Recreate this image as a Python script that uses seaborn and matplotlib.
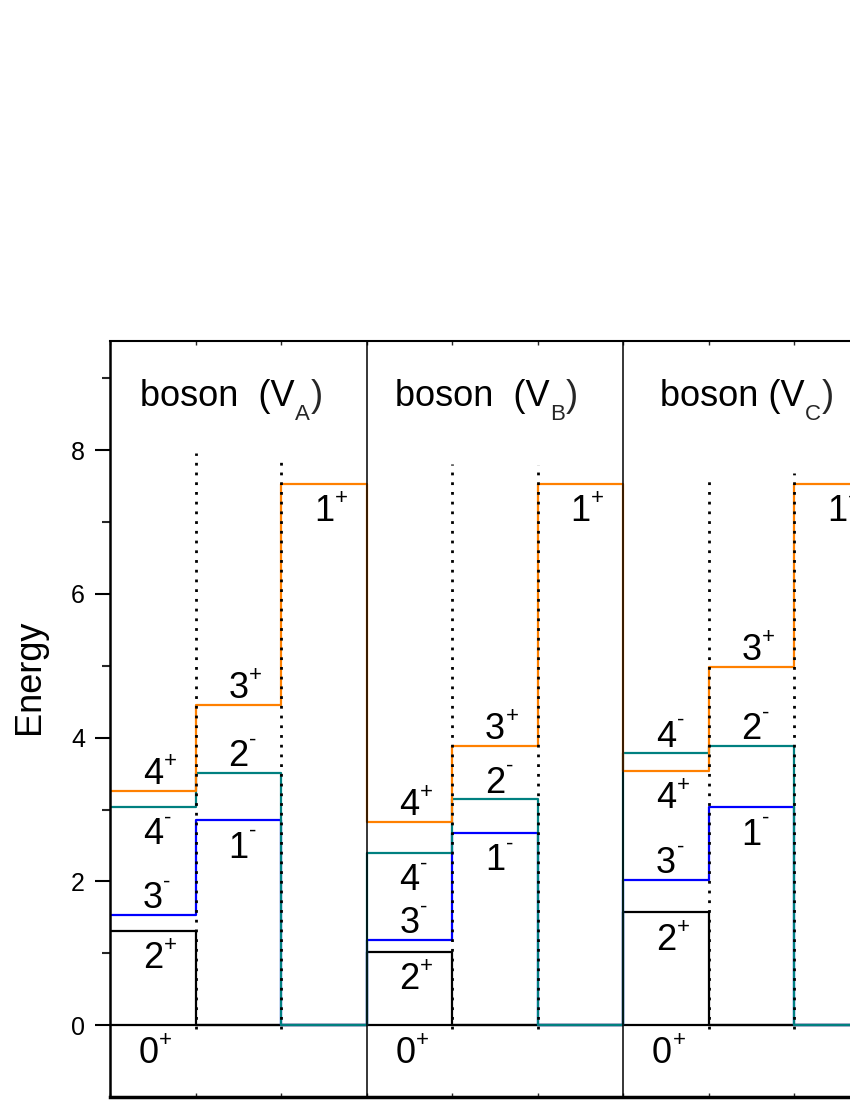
import numpy as np
import pandas as pd
import matplotlib.pyplot as plt
import seaborn as sns

# energy of each level, one value per column (3 columns per panel, 3 panels)
# 0 means the series has no level in that column
columns = list(range(9))
black_levels = [1.31, 0, 0, 1.02, 0, 0, 1.57, 0, 0]
blue_levels = [1.53, 2.85, 0, 1.18, 2.68, 0, 2.02, 3.03, 0]
teal_levels = [3.04, 3.51, 0, 2.40, 3.14, 0, 3.78, 3.88, 0]
orange_levels = [3.26, 4.45, 7.53, 2.83, 3.89, 7.53, 3.54, 4.98, 7.53]

series_names = ['black', 'blue', 'teal', 'orange']
series_colors = {'black': 'black', 'blue': '#0000FF', 'teal': '#008080', 'orange': '#FF8000'}
levels = {'black': black_levels, 'blue': blue_levels,
          'teal': teal_levels, 'orange': orange_levels}

panel_titles = ['boson  (V', 'boson  (V', 'boson (V']
panel_subs = ['A', 'B', 'C']

# (column, series, spin, parity, side of the line)
state_labels = [
    (0, 'black', '2', '+', 'below'),
    (0, 'blue', '3', '-', 'above'),
    (0, 'teal', '4', '-', 'below'),
    (0, 'orange', '4', '+', 'above'),
    (1, 'blue', '1', '-', 'below'),
    (1, 'teal', '2', '-', 'above'),
    (1, 'orange', '3', '+', 'above'),
    (2, 'orange', '1', '+', 'below'),
    (3, 'black', '2', '+', 'below'),
    (3, 'blue', '3', '-', 'above'),
    (3, 'teal', '4', '-', 'below'),
    (3, 'orange', '4', '+', 'above'),
    (4, 'blue', '1', '-', 'below'),
    (4, 'teal', '2', '-', 'above'),
    (4, 'orange', '3', '+', 'above'),
    (5, 'orange', '1', '+', 'below'),
    (6, 'black', '2', '+', 'below'),
    (6, 'blue', '3', '-', 'above'),
    (6, 'teal', '4', '-', 'above'),
    (6, 'orange', '4', '+', 'below'),
    (7, 'blue', '1', '-', 'below'),
    (7, 'teal', '2', '-', 'above'),
    (7, 'orange', '3', '+', 'above'),
    (8, 'orange', '1', '+', 'below'),
]
ground_columns = [0, 3, 6]

# dotted guides between columns inside each panel
guide_x = [1, 2, 4, 5, 7, 8]
guide_tops = [7.96, 7.83, 7.81, 7.79, 7.65, 7.68]

sns.set_theme(style='ticks')
plt.rcParams['font.family'] = ['Liberation Sans', 'DejaVu Sans']

rows = []
for name in series_names:
    vals = levels[name] + [levels[name][-1]]
    for x, e in zip(range(len(vals)), vals):
        rows.append({'x': x, 'energy': e, 'series': name})
df = pd.DataFrame(rows)

fig = plt.figure(figsize=(8.5, 11), dpi=100)
ax = fig.add_axes([110 / 850, 3 / 1100, 770 / 850, 756 / 1100])

ax.axhline(0, color='black', lw=1.6, zorder=1)
sns.lineplot(data=df, x='x', y='energy', hue='series', hue_order=series_names,
             palette=series_colors, drawstyle='steps-post', lw=1.6,
             estimator=None, sort=False, legend=False, ax=ax)

ax.vlines(guide_x, -0.06, guide_tops, colors='black', lw=2,
          linestyles=[(0, (1, 2.5))], zorder=4)
for xb in [3, 6]:
    ax.axvline(xb, color='black', lw=1.1, zorder=5)

# level labels with parity as small raised sign
sign_dy = {'+': 4.3, '-': 7.0}
for col, name, spin, parity, side in state_labels:
    e = levels[name][col]
    if side == 'above':
        off, va = 5, 'baseline'
    else:
        off, va = -7.5, 'top'
    t = ax.annotate(spin, (col + 0.5, e), xytext=(0, off), textcoords='offset points',
                    ha='center', va=va, fontsize=26, color='black')
    ax.annotate(parity, xy=(1, 1), xycoords=t, xytext=(0.5, sign_dy[parity]),
                textcoords='offset points', ha='left', va='top', fontsize=16, color='black')

for col in ground_columns:
    t = ax.annotate('0', (col + 0.45, 0), xytext=(0, -8), textcoords='offset points',
                    ha='center', va='top', fontsize=26, color='black')
    ax.annotate('+', xy=(1, 1), xycoords=t, xytext=(0.5, sign_dy['+']),
                textcoords='offset points', ha='left', va='top', fontsize=16, color='black')

# panel titles with subscripts
title_offsets = [0.35, 0.33, 0.43]
for i, (title, sub) in enumerate(zip(panel_titles, panel_subs)):
    t1 = ax.text(3 * i + title_offsets[i], 8.62, title, ha='left', va='baseline',
                 fontsize=26, color='black')
    t2 = ax.annotate(sub, xy=(1, 0), xycoords=t1, xytext=(0.3, -4.6),
                     textcoords='offset points', ha='left', va='baseline', fontsize=16)
    ax.annotate(')', xy=(1, 0), xycoords=(t2, t1), xytext=(0.5, 0),
                textcoords='offset points', ha='left', va='bottom', fontsize=26)

ax.set_xlim(0, 9)
ax.set_ylim(-1, 9.52)
ax.set_yticks([0, 2, 4, 6, 8])
ax.set_yticks([1, 3, 5, 7, 9], minor=True)
ax.set_xticks(range(10))
ax.tick_params(axis='y', which='major', direction='out', length=11, width=1.5,
               labelsize=18, pad=7, colors='black')
ax.tick_params(axis='y', which='minor', direction='out', length=6, width=1.5)
ax.tick_params(axis='x', which='major', direction='in', length=3, width=1,
               top=True, bottom=True, labelbottom=False)
ax.set_xlabel('')
ax.set_ylabel('Energy', fontsize=26, color='black')
ax.yaxis.set_label_coords(-0.082, 0.556)

ax.spines['left'].set_linewidth(1.8)
ax.spines['bottom'].set_linewidth(2.5)
ax.spines['top'].set_linewidth(1.5)
for s in ax.spines.values():
    s.set_color('black')

fig.savefig('out.png', dpi=100)
